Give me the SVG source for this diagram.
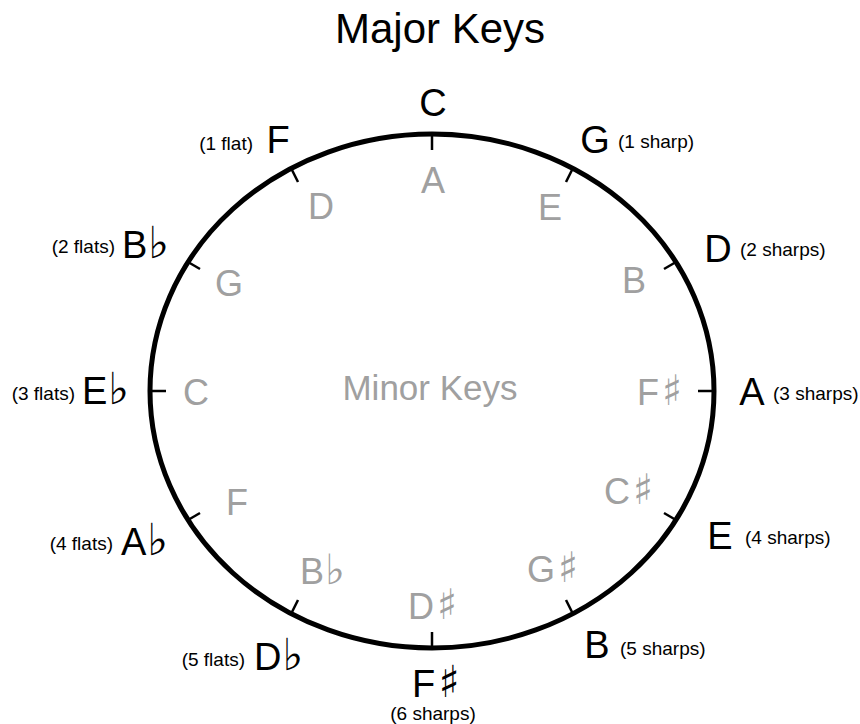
<svg xmlns="http://www.w3.org/2000/svg" width="860" height="724" viewBox="0 0 860 724">
<style>
.maj{font-family:"Liberation Sans",Arial,sans-serif;font-size:38px;fill:#000;text-anchor:middle}
.min{font-family:"Liberation Sans",Arial,sans-serif;font-size:36px;fill:#a0a0a0;text-anchor:middle}
.st{text-anchor:start}
.sm{font-family:"Liberation Sans",Arial,sans-serif;font-size:19px;fill:#000}
.acc{font-family:"DejaVu Sans",sans-serif;font-size:44px}
.tick{stroke:#000;stroke-width:2.5}
</style>
<rect width="860" height="724" fill="#fff"/>
<text x="440" y="43" class="maj" font-size="42" style="font-size:42px">Major Keys</text>
<g id="circle">
<ellipse cx="432" cy="391" rx="282" ry="257" fill="none" stroke="#000" stroke-width="5"/>
</g>
<g id="ticks">
<line class="tick" x1="432" y1="134" x2="432" y2="150"/>
<line class="tick" x1="573" y1="168" x2="566" y2="182"/>
<line class="tick" x1="676" y1="262" x2="664" y2="269"/>
<line class="tick" x1="714" y1="391" x2="698" y2="391"/>
<line class="tick" x1="676" y1="520" x2="664" y2="513"/>
<line class="tick" x1="573" y1="614" x2="566" y2="600"/>
<line class="tick" x1="432" y1="648" x2="432" y2="632"/>
<line class="tick" x1="291" y1="614" x2="298" y2="600"/>
<line class="tick" x1="188" y1="520" x2="200" y2="513"/>
<line class="tick" x1="150" y1="391" x2="166" y2="391"/>
<line class="tick" x1="188" y1="262" x2="200" y2="269"/>
<line class="tick" x1="291" y1="168" x2="298" y2="182"/>
</g>
<g id="major">
<text class="maj" x="433" y="116">C</text>
<text class="maj" x="595" y="153">G</text>
<text class="sm" x="618" y="148">(1 sharp)</text>
<text class="maj" x="718" y="262">D</text>
<text class="sm" x="740" y="256">(2 sharps)</text>
<text class="maj" x="752" y="405">A</text>
<text class="sm" x="773" y="400">(3 sharps)</text>
<text class="maj" x="720" y="549">E</text>
<text class="sm" x="745" y="544">(4 sharps)</text>
<text class="maj" x="597" y="658">B</text>
<text class="sm" x="620" y="655">(5 sharps)</text>
<text class="maj st" x="412" y="697">F<tspan class="acc" dx="3">♯</tspan></text>
<text class="sm" x="433" y="720" text-anchor="middle">(6 sharps)</text>
<text class="maj st" x="254" y="670">D<tspan class="acc" dx="1">♭</tspan></text>
<text class="sm" x="245" y="666" text-anchor="end">(5 flats)</text>
<text class="maj st" x="121" y="555">A<tspan class="acc" dx="1">♭</tspan></text>
<text class="sm" x="113" y="550" text-anchor="end">(4 flats)</text>
<text class="maj st" x="82" y="404">E<tspan class="acc" dx="1">♭</tspan></text>
<text class="sm" x="75" y="400" text-anchor="end">(3 flats)</text>
<text class="maj st" x="122" y="258">B<tspan class="acc" dx="1">♭</tspan></text>
<text class="sm" x="115" y="253" text-anchor="end">(2 flats)</text>
<text class="maj" x="278" y="153">F</text>
<text class="sm" x="253" y="150" text-anchor="end">(1 flat)</text>
</g>
<g id="minor">
<text class="min" x="433" y="193">A</text>
<text class="min" x="550" y="220">E</text>
<text class="min" x="634" y="293">B</text>
<text class="min st" x="637" y="405">F<tspan class="acc" dx="3" font-size="42" style="font-size:42px">♯</tspan></text>
<text class="min st" x="604" y="504">C<tspan class="acc" dx="3" style="font-size:42px">♯</tspan></text>
<text class="min st" x="527" y="582">G<tspan class="acc" dx="3" style="font-size:42px">♯</tspan></text>
<text class="min st" x="408" y="619">D<tspan class="acc" dx="3" style="font-size:42px">♯</tspan></text>
<text class="min st" x="300" y="584">B<tspan class="acc" dx="1" style="font-size:42px">♭</tspan></text>
<text class="min" x="237" y="515">F</text>
<text class="min" x="196" y="405">C</text>
<text class="min" x="229" y="296">G</text>
<text class="min" x="321" y="219">D</text>
<text class="min" x="430" y="400" style="font-size:35px">Minor Keys</text>
</g>
</svg>
